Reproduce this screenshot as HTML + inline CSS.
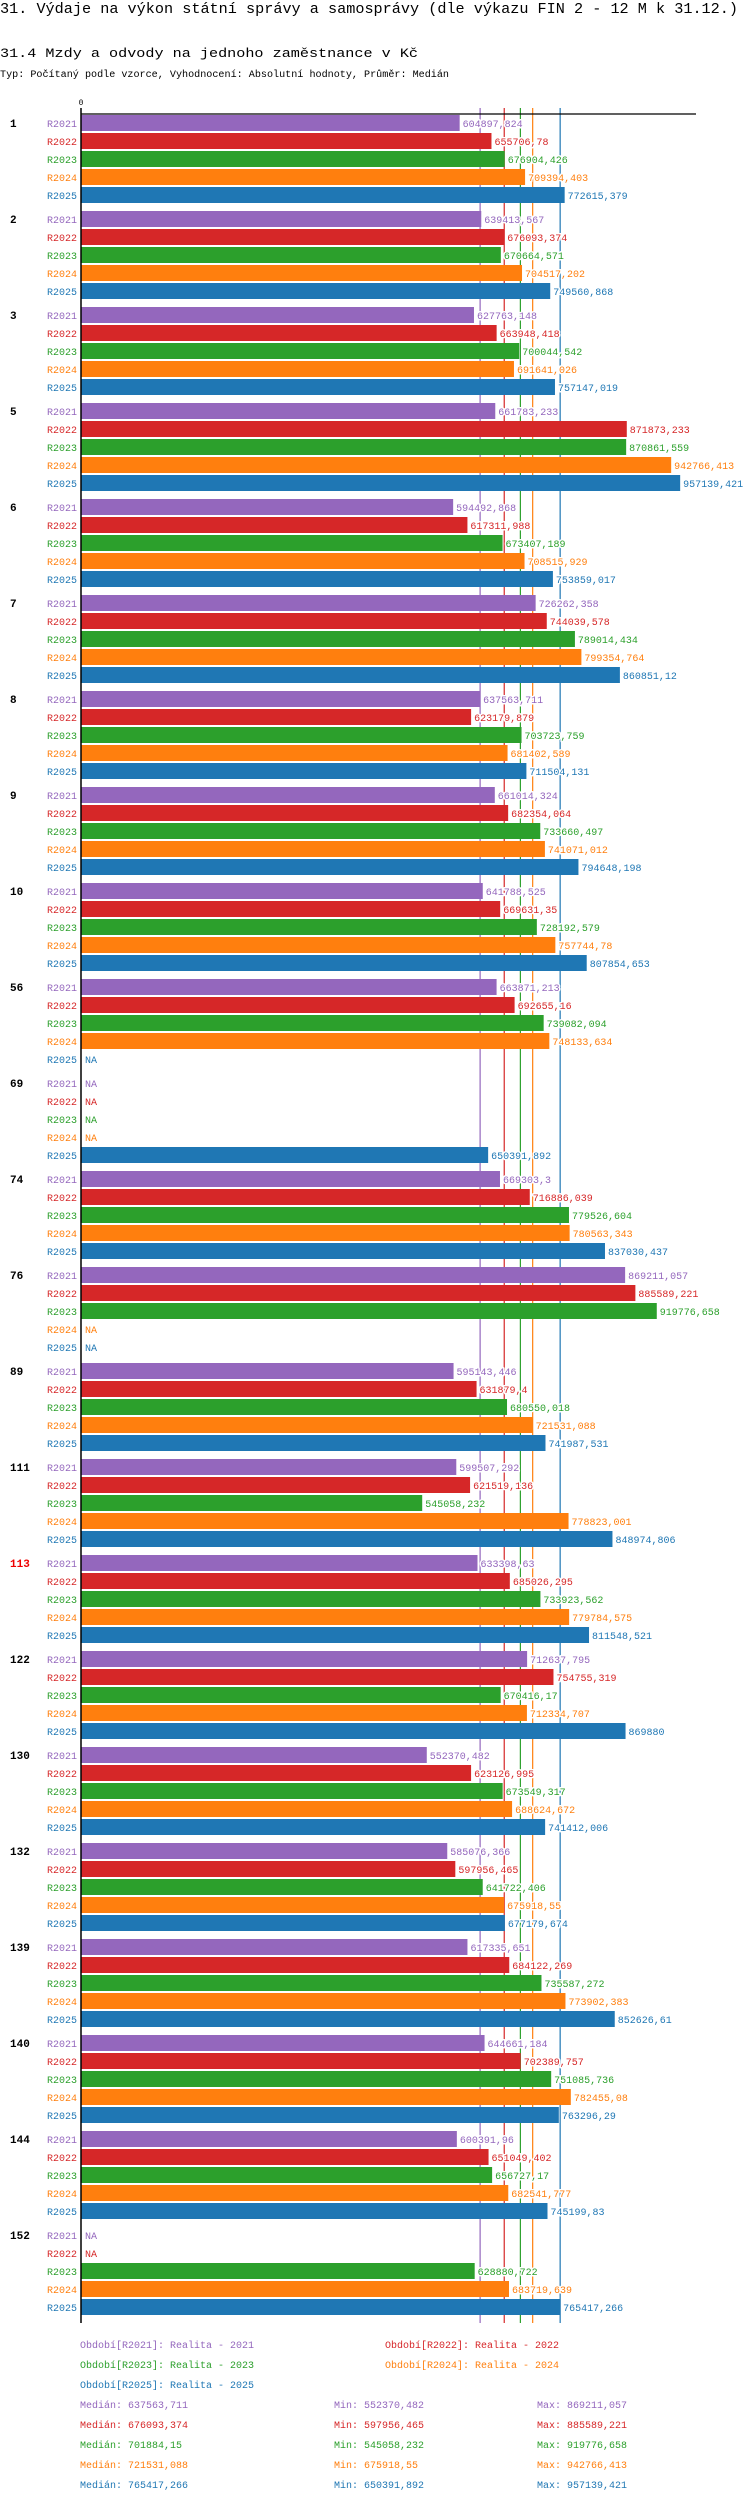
<!DOCTYPE html>
<html><head><meta charset="utf-8"><title>31.4 Mzdy a odvody</title>
<style>
html,body{margin:0;padding:0;background:#fff;}
svg{display:block;font-family:"Liberation Mono","DejaVu Sans Mono",monospace;}
.lbl{paint-order:stroke;stroke:#fff;stroke-width:3px;stroke-linejoin:round;}
</style></head>
<body>
<svg id="chart" width="750" height="2502" viewBox="0 0 750 2502" xmlns="http://www.w3.org/2000/svg">
<text x="0" y="13" font-size="15" textLength="738" lengthAdjust="spacingAndGlyphs">31. Výdaje na výkon státní správy a samosprávy (dle výkazu FIN 2 - 12 M k 31.12.)</text>
<text x="0" y="57" font-size="13" textLength="418" lengthAdjust="spacingAndGlyphs">31.4 Mzdy a odvody na jednoho zaměstnance v Kč</text>
<text x="0" y="77" font-size="10" textLength="449" lengthAdjust="spacingAndGlyphs">Typ: Počítaný podle vzorce, Vyhodnocení: Absolutní hodnoty, Průměr: Medián</text>
<text x="81" y="105" font-size="8" text-anchor="middle">0</text>
<g id="medians"></g>
<g id="bars"></g>
<line x1="81" y1="114" x2="696" y2="114" stroke="#000" stroke-width="1.2"/>
<line x1="81" y1="108" x2="81" y2="2323" stroke="#000" stroke-width="1.5"/>
<g id="legend"></g>
</svg>
<script>
const categories = ["1","2","3","5","6","7","8","9","10","56","69","74","76","89","111","113","122","130","132","139","140","144","152"];
const seriesNames = ["R2021","R2022","R2023","R2024","R2025"];
const s2021 = [604897.824,639413.567,627763.148,661783.233,594492.868,726262.358,637563.711,661014.324,641788.525,663871.213,null,669303.3,869211.057,595143.446,599507.292,633398.63,712637.795,552370.482,585076.366,617335.651,644661.184,600391.96,null];
const s2022 = [655706.78,676093.374,663948.418,871873.233,617311.988,744039.578,623179.879,682354.064,669631.35,692655.16,null,716886.039,885589.221,631879.4,621519.136,685026.295,754755.319,623126.995,597956.465,684122.269,702389.757,651049.402,null];
const s2023 = [676904.426,670664.571,700044.542,870861.559,673407.189,789014.434,703723.759,733660.497,728192.579,739082.094,null,779526.604,919776.658,680550.018,545058.232,733923.562,670416.17,673549.317,641722.406,735587.272,751085.736,656727.17,628880.722];
const s2024 = [709394.403,704517.202,691641.026,942766.413,708515.929,799354.764,681402.589,741071.012,757744.78,748133.634,null,780563.343,null,721531.088,778823.001,779784.575,712334.707,688624.672,675918.55,773902.383,782455.08,682541.777,683719.639];
const s2025 = [772615.379,749560.868,757147.019,957139.421,753859.017,860851.12,711504.131,794648.198,807854.653,null,650391.892,837030.437,null,741987.531,848974.806,811548.521,869880,741412.006,677179.674,852626.61,763296.29,745199.83,765417.266];
const medians = [637563.711,676093.374,701884.15,721531.088,765417.266];
const mins = [552370.482,597956.465,545058.232,675918.55,650391.892];
const maxs = [869211.057,885589.221,919776.658,942766.413,957139.421];
const legendNames = ["Období[R2021]: Realita - 2021","Období[R2022]: Realita - 2022","Období[R2023]: Realita - 2023","Období[R2024]: Realita - 2024","Období[R2025]: Realita - 2025"];
const highlighted = ["113"];

const series = [s2021,s2022,s2023,s2024,s2025];
const colors = ["#9467bd","#d62728","#2ca02c","#ff7f0e","#1f77b4"];
const NS = "http://www.w3.org/2000/svg";
const X0 = 81, K = 0.000626, TOP = 115, ROW = 18, GROUP = 96, BH = 16;
function xs(v){ return X0 + v*K; }
function ys(g,s){ return TOP + g*GROUP + s*ROW; }
function fmt(v){ return String(v).replace('.', ','); }
function mk(tag, attrs, parent){ const e=document.createElementNS(NS,tag); for(const k in attrs) e.setAttribute(k,attrs[k]); parent.appendChild(e); return e; }

const gM = document.getElementById('medians');
medians.forEach((m,i)=>{
  const l = mk('line',{x1:xs(m),x2:xs(m),y1:108,y2:2323,stroke:colors[i],'stroke-width':1.2},gM);
  
  
});

const gB = document.getElementById('bars');
categories.forEach((c,g)=>{
  const t = mk('text',{x:10,y:ys(g,0)+12,'font-size':11,'font-weight':'bold',fill: highlighted.includes(c)?'#e00':'#000'},gB);
  t.textContent = c;
  
  
  series.forEach((arr,s)=>{
    const y = ys(g,s);
    const sl = mk('text',{x:77,y:y+12,'font-size':10,fill:colors[s],'text-anchor':'end'},gB);
    sl.textContent = seriesNames[s];
    
    
    const v = arr[g];
    let lx;
    if (v === null) {
      lx = X0 + 4;
    } else {
      const r = mk('rect',{x:X0,y:y,width:xs(v)-X0,height:BH,fill:colors[s]},gB);
      
      
      lx = xs(v) + 3;
    }
    const vl = mk('text',{x:lx,y:y+12,'font-size':10,fill:colors[s],class:'lbl'},gB);
    vl.textContent = v===null ? 'NA' : fmt(v);
    
    
  });
});

const gL = document.getElementById('legend');
const legPos = [[80,2348],[385,2348],[80,2368],[385,2368],[80,2388]];
legendNames.forEach((n,i)=>{
  const t = mk('text',{x:legPos[i][0],y:legPos[i][1],'font-size':10,fill:colors[i]},gL);
  t.textContent = n;
  
  
});
medians.forEach((m,i)=>{
  const y = 2408 + i*20;
  const a = mk('text',{x:80,y:y,'font-size':10,fill:colors[i]},gL);
  a.textContent = 'Medián: '+fmt(m);
  
  
  const b = mk('text',{x:334,y:y,'font-size':10,fill:colors[i]},gL);
  b.textContent = 'Min: '+fmt(mins[i]);
  
  
  const c = mk('text',{x:537,y:y,'font-size':10,fill:colors[i]},gL);
  c.textContent = 'Max: '+fmt(maxs[i]);
  
  
});
</script>
</body></html>
